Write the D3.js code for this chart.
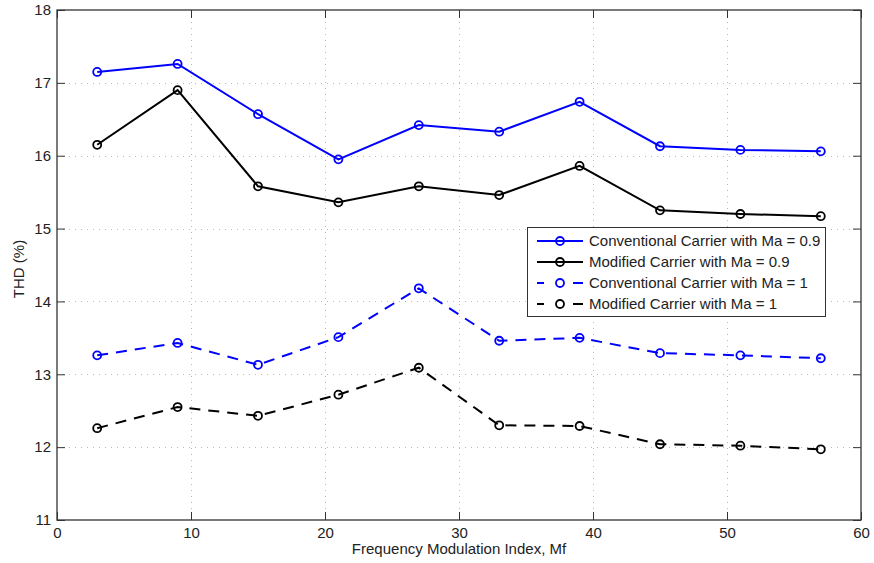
<!DOCTYPE html>
<html>
<head>
<meta charset="utf-8">
<script src="https://cdn.jsdelivr.net/npm/d3@7"></script>
<style>
  html, body { margin: 0; padding: 0; background: #fff; }
  svg { display: block; font-family: "Liberation Sans", Arial, Helvetica, sans-serif; }
</style>
</head>
<body>
<svg id="chart" width="874" height="563"></svg>
<script>
// Frequency modulation index values
const mf = [3, 9, 15, 21, 27, 33, 39, 45, 51, 57];

// THD (%) for each carrier scheme
const convMa09 = [17.15, 17.26, 16.57, 15.95, 16.42, 16.33, 16.74, 16.13, 16.08, 16.06];
const modMa09  = [16.15, 16.90, 15.58, 15.36, 15.58, 15.46, 15.86, 15.25, 15.20, 15.17];
const convMa1  = [13.26, 13.43, 13.13, 13.51, 14.18, 13.46, 13.50, 13.29, 13.26, 13.22];
const modMa1   = [12.26, 12.55, 12.43, 12.72, 13.09, 12.30, 12.29, 12.04, 12.02, 11.97];

const seriesNames = [
  "Conventional Carrier with Ma = 0.9",
  "Modified Carrier with Ma = 0.9",
  "Conventional Carrier with Ma = 1",
  "Modified Carrier with Ma = 1"
];

const xTicks = [0, 10, 20, 30, 40, 50, 60];
const yTicks = [11, 12, 13, 14, 15, 16, 17, 18];

const series = [
  { name: seriesNames[0], values: convMa09, color: "#0000ff", dash: null },
  { name: seriesNames[1], values: modMa09,  color: "#000000", dash: null },
  { name: seriesNames[2], values: convMa1,  color: "#0000ff", dash: "11,8" },
  { name: seriesNames[3], values: modMa1,   color: "#000000", dash: "11,8" }
];

const svg = d3.select("#chart");
const pL = 57, pR = 861, pT = 10, pB = 520;
const fontSize = "15px";

const x = d3.scaleLinear().domain([0, 60]).range([pL, pR]);
const y = d3.scaleLinear().domain([11, 18]).range([pB, pT]);

// Dotted grid
const grid = svg.append("g").attr("stroke", "#b8b8b8").attr("stroke-width", 1)
  .attr("stroke-dasharray", "1,5");
grid.selectAll(".gx").data(xTicks.slice(1, -1)).join("line")
  .attr("x1", d => Math.round(x(d)) + 0.5).attr("x2", d => Math.round(x(d)) + 0.5)
  .attr("y1", pT).attr("y2", pB);
grid.selectAll(".gy").data(yTicks.slice(1, -1)).join("line")
  .attr("y1", d => Math.round(y(d)) + 0.5).attr("y2", d => Math.round(y(d)) + 0.5)
  .attr("x1", pL).attr("x2", pR);

// Axes with inward ticks on all four sides
const tickLen = 8;
const fmt = d3.format("d");
const axisStyle = g => {
  g.select(".domain").remove();
  g.selectAll(".tick line").attr("stroke", "#333").attr("stroke-width", 1);
  g.selectAll(".tick text").attr("fill", "#222").style("font-size", fontSize)
    .style("font-family", '"Liberation Sans", Arial, sans-serif');
};
svg.append("g").attr("transform", `translate(0,${pB})`)
  .call(d3.axisBottom(x).tickValues(xTicks).tickFormat(fmt).tickSize(-tickLen).tickPadding(7))
  .call(axisStyle);
svg.append("g").attr("transform", `translate(0,${pT})`)
  .call(d3.axisTop(x).tickValues(xTicks).tickSize(-tickLen).tickFormat(""))
  .call(axisStyle);
svg.append("g").attr("transform", `translate(${pL},0)`)
  .call(d3.axisLeft(y).tickValues(yTicks).tickFormat(fmt).tickSize(-tickLen).tickPadding(6))
  .call(axisStyle);
svg.append("g").attr("transform", `translate(${pR},0)`)
  .call(d3.axisRight(y).tickValues(yTicks).tickSize(-tickLen).tickFormat(""))
  .call(axisStyle);

// Plot frame
svg.append("rect").attr("x", pL).attr("y", pT)
  .attr("width", pR - pL).attr("height", pB - pT)
  .attr("fill", "none").attr("stroke", "#333").attr("stroke-width", 1.3);

// Series lines and circle markers
const line = d3.line().x((d, i) => x(mf[i])).y(d => y(d));
series.forEach(s => {
  const g = svg.append("g");
  g.append("path").datum(s.values)
    .attr("d", line).attr("fill", "none")
    .attr("stroke", s.color).attr("stroke-width", 2)
    .attr("stroke-dasharray", s.dash);
  g.selectAll("circle").data(s.values).join("circle")
    .attr("cx", (d, i) => x(mf[i])).attr("cy", d => y(d)).attr("r", 4)
    .attr("fill", "none").attr("stroke", s.color).attr("stroke-width", 1.8);
});

// Axis titles
svg.append("text").attr("x", 459).attr("y", 554)
  .attr("text-anchor", "middle").style("font-size", fontSize).attr("fill", "#222")
  .text("Frequency Modulation Index, Mf");
svg.append("text").attr("transform", `translate(24,269) rotate(-90)`)
  .attr("text-anchor", "middle").style("font-size", fontSize).attr("fill", "#222")
  .text("THD (%)");

// Legend
const lg = svg.append("g");
lg.append("rect").attr("x", 527.5).attr("y", 227.5).attr("width", 298).attr("height", 89)
  .attr("fill", "#fff").attr("stroke", "#333").attr("stroke-width", 1);
series.forEach((s, i) => {
  const cy = 241 + i * 21;
  lg.append("line").attr("x1", 537).attr("x2", 583).attr("y1", cy).attr("y2", cy)
    .attr("stroke", s.color).attr("stroke-width", 2)
    .attr("stroke-dasharray", s.dash ? "7,29,10" : null);
  lg.append("circle").attr("cx", 560).attr("cy", cy).attr("r", 4)
    .attr("fill", "none").attr("stroke", s.color).attr("stroke-width", 1.8);
  lg.append("text").attr("x", 589).attr("y", cy + 5)
    .style("font-size", fontSize).attr("fill", "#222").text(s.name);
});
</script>
</body>
</html>
